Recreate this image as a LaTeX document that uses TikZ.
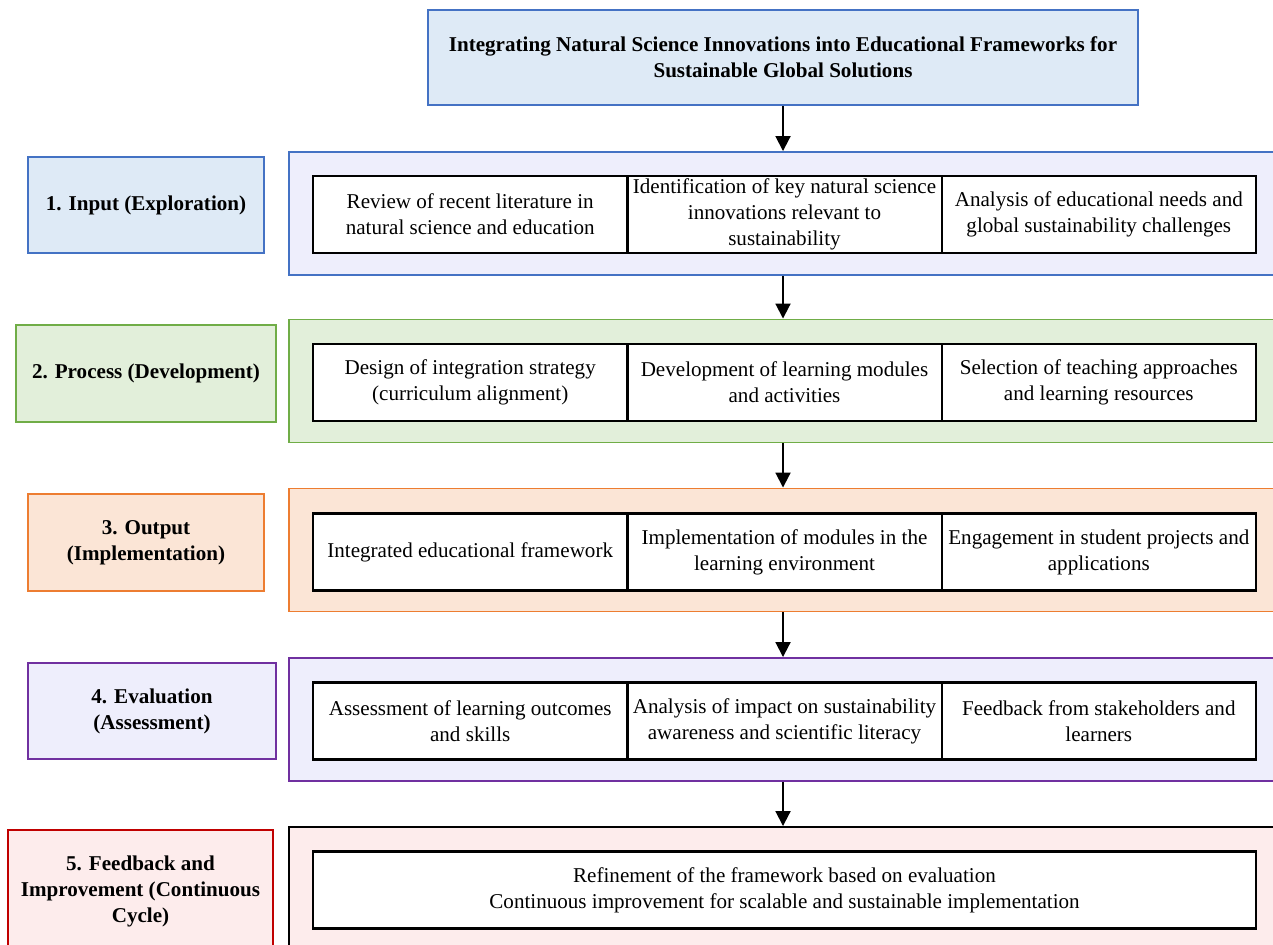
\documentclass[tikz,border=0pt]{standalone}
\usepackage{fontspec}
\setmainfont{Liberation Serif}
\usetikzlibrary{arrows.meta}
\definecolor{bluedge}{HTML}{4472C4}
\definecolor{bluefill}{HTML}{DEEAF6}
\definecolor{lavfill}{HTML}{EEEEFC}
\definecolor{greenedge}{HTML}{70AD47}
\definecolor{greenfill}{HTML}{E2EFDA}
\definecolor{orangeedge}{HTML}{ED7D31}
\definecolor{orangefill}{HTML}{FBE5D6}
\definecolor{purpleedge}{HTML}{7030A0}
\definecolor{rededge}{HTML}{C00000}
\definecolor{redfill}{HTML}{FDECEC}
\newcommand{\cw}{6.287cm}

\begin{document}
\begin{tikzpicture}[x=0.02cm,y=-0.02cm,
    txt/.style={align=center,inner sep=0pt,font=\fontsize{12}{14.8}\selectfont},
    stage/.style={txt,draw,line width=1.1pt,font=\fontsize{12}{14.8}\selectfont\bfseries},
    panel/.style={draw,line width=1.1pt,minimum width=19.76cm,minimum height=2.46cm,inner sep=0pt},
    cell/.style={txt,draw=black,line width=1.3pt,fill=white,minimum width=\cw,minimum height=1.54cm},
    flow/.style={-{Triangle[width=0.3cm,length=0.3cm]},line width=1.1pt}]
    \path[use as bounding box] (0,0) rectangle (1273,945);
    \clip (0,0) rectangle (1273,945);
    % title
    \node[stage,draw=bluedge,fill=bluefill,minimum width=14.22cm,minimum height=1.9cm] (title) at (783,57.5)
        {Integrating Natural Science Innovations into Educational Frameworks for\\Sustainable Global Solutions};
    % panels
    \foreach \n/\y/\ed/\fl in {1/213.5/bluedge/lavfill,2/381/greenedge/greenfill,3/550/orangeedge/orangefill,
                               4/719.5/purpleedge/lavfill,5/888.5/black/redfill}{
    \node[panel,draw=\ed,fill=\fl] (panel\n) at (783,\y) {};
    }
    % stage labels
    \node[stage,draw=bluedge,fill=bluefill,minimum width=4.72cm,minimum height=1.92cm] (stage1) at (146,205) {1. Input (Exploration)};
    \node[stage,draw=greenedge,fill=greenfill,minimum width=5.2cm,minimum height=1.94cm] (stage2) at (146,373.5) {2. Process (Development)};
    \node[stage,draw=orangeedge,fill=orangefill,minimum width=4.72cm,minimum height=1.94cm] (stage3) at (146,542.5) {3. Output\\(Implementation)};
    \node[stage,draw=purpleedge,fill=lavfill,minimum width=4.96cm,minimum height=1.92cm] (stage4) at (152,711) {4. Evaluation\\(Assessment)};
    \node[stage,draw=rededge,fill=redfill,minimum width=5.3cm,minimum height=2.44cm] (stage5) at (140.5,891) {5. Feedback and\\Improvement (Continuous\\Cycle)};
    % cells
    \foreach \n/\y/\ta/\tb/\tc in {
        1/214.5/{Review of recent literature in\\natural science and education}/{Identification of key natural science\\innovations relevant to\\sustainability}/{Analysis of educational needs and\\global sustainability challenges},
        2/382.5/{Design of integration strategy\\(curriculum alignment)}/{Development of learning modules\\and activities}/{Selection of teaching approaches\\and learning resources},
        3/552/{Integrated educational framework}/{Implementation of modules in the\\learning environment}/{Engagement in student projects and\\applications},
        4/721/{Assessment of learning outcomes\\and skills}/{Analysis of impact on sustainability\\awareness and scientific literacy}/{Feedback from stakeholders and\\learners}}{
    \node[cell] (c\n a) at (470.2,\y) {\ta};
    \node[cell] (c\n b) at (784.5,\y) {\tb};
    \node[cell] (c\n c) at (1098.8,\y) {\tc};
    }
    \node[cell,minimum width=18.86cm] (c5) at (784.5,890)
        {Refinement of the framework based on evaluation\\Continuous improvement for scalable and sustainable implementation};
    % arrows
    \draw[flow] (title.south) -- (panel1.north);
    \foreach \a/\b in {1/2,2/3,3/4,4/5}{
    \draw[flow] (panel\a.south) -- (panel\b.north);
    }
\end{tikzpicture}
\end{document}
